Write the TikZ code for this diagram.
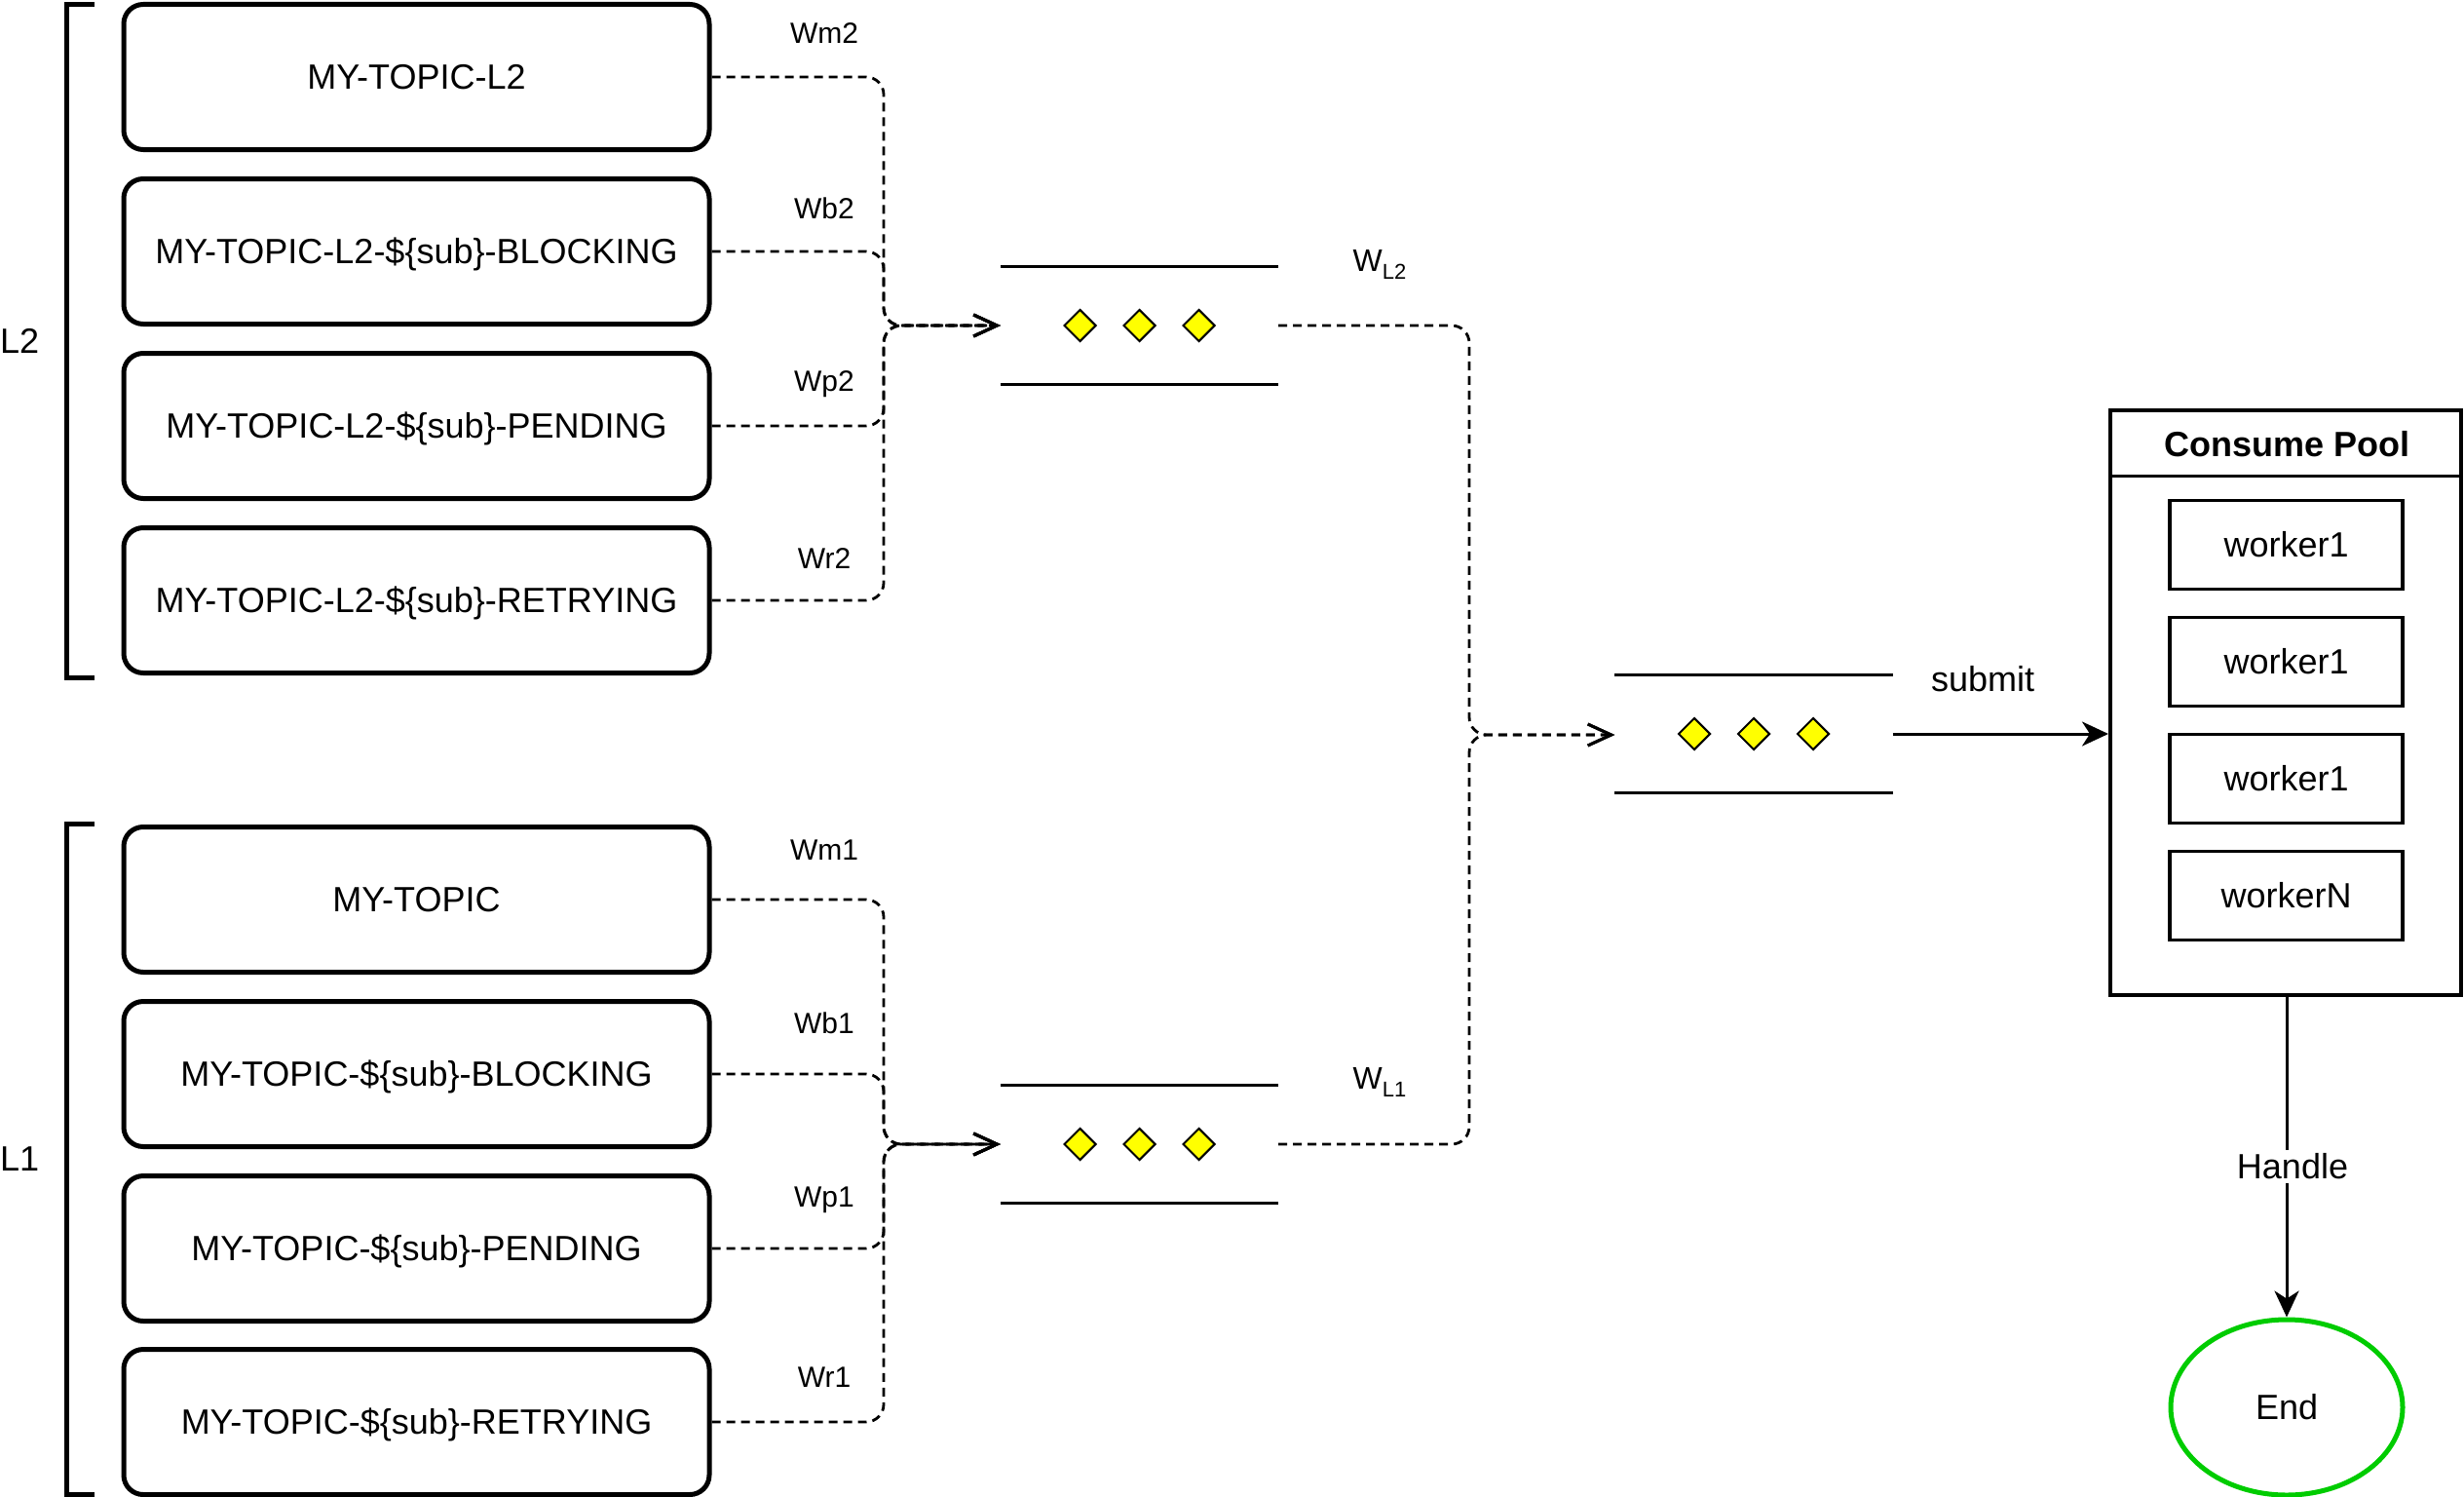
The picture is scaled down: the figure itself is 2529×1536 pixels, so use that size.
\documentclass[tikz,border=0pt]{standalone}
\usepackage{fontspec}
\setmainfont{Liberation Sans}
\usetikzlibrary{arrows.meta,shapes.geometric}
\newcommand\fsz[1]{\fontsize{#1pt}{#1pt}\selectfont}
\definecolor{endgreen}{RGB}{0,204,0}
\definecolor{dyellow}{RGB}{255,255,0}
\begin{document}
\begin{tikzpicture}[x=1pt,y=-1pt,
 topic/.style={draw, line width=5pt, rounded corners=20pt, minimum width=601pt, minimum height=149pt, inner sep=0pt, font=\fsz{36}, text height=25.8pt, text depth=0pt},
 wlbl/.style={font=\fsz{30}, inner sep=0pt},
 big/.style={font=\fsz{36}, inner sep=0pt},
 dashline/.style={line width=2.8pt, dash pattern=on 9pt off 6pt, rounded corners=18pt, -{Straight Barb[length=24pt,width=22pt,line width=3pt]}},
 queue/.style={minimum width=285pt, minimum height=120pt, inner sep=0pt},
 qline/.style={line width=3pt},
 dia/.style={diamond, draw, fill=dyellow, line width=2pt, minimum width=33pt, minimum height=33pt, inner sep=0pt},
 worker/.style={draw, line width=3.5pt, minimum width=239pt, minimum height=91pt, inner sep=0pt, font=\fsz{36}},
 bracket/.style={line width=5pt},
 solidarrow/.style={line width=3pt, -{Stealth[length=27pt,width=25pt,inset=8pt]}},
]
\useasboundingbox (0,0) rectangle (2529,1536);

% brackets and level labels
\draw[bracket] (97,5) -- (68,5) -- (68,695) -- (97,695);
\draw[bracket] (97,845) -- (68,845) -- (68,1533) -- (97,1533);
\node[big, anchor=west] (lvl2) at (0,350) {L2};
\node[big, anchor=west] (lvl1) at (0,1189) {L1};

% topic boxes L2
\node[topic] (t21) at (427.5,79) {MY-TOPIC-L2};
\node[topic] (t22) at (427.5,258) {MY-TOPIC-L2-\$\{sub\}-BLOCKING};
\node[topic] (t23) at (427.5,437) {MY-TOPIC-L2-\$\{sub\}-PENDING};
\node[topic] (t24) at (427.5,616) {MY-TOPIC-L2-\$\{sub\}-RETRYING};
% topic boxes L1
\node[topic] (t11) at (427.5,923) {MY-TOPIC};
\node[topic] (t12) at (427.5,1102) {MY-TOPIC-\$\{sub\}-BLOCKING};
\node[topic] (t13) at (427.5,1281) {MY-TOPIC-\$\{sub\}-PENDING};
\node[topic] (t14) at (427.5,1459) {MY-TOPIC-\$\{sub\}-RETRYING};

% weight labels
\node[wlbl] (wm2) at (846,34) {Wm2};
\node[wlbl] (wb2) at (846,214) {Wb2};
\node[wlbl] (wp2) at (846,394) {Wp2};
\node[wlbl] (wr2) at (846,573) {Wr2};
\node[wlbl] (wm1) at (846,872) {Wm1};
\node[wlbl] (wb1) at (846,1050) {Wb1};
\node[wlbl] (wp1) at (846,1231) {Wp1};
\node[wlbl] (wr1) at (846,1413) {Wr1};

% queues
\node[queue] (q2) at (1169.5,334) {};
\node[queue] (q1) at (1169.5,1174) {};
\node[queue] (mq) at (1800,753) {};
\foreach \q in {q2,q1,mq}{
  \draw[qline] (\q.north west) -- (\q.north east);
  \draw[qline] (\q.south west) -- (\q.south east);
  \node[dia] (\q d1) at ([xshift=-61pt]\q.center) {};
  \node[dia] (\q d2) at (\q.center) {};
  \node[dia] (\q d3) at ([xshift=61pt]\q.center) {};
}
\node[inner sep=0pt] (wl2) at (1416,271) {\fsz{32}W\raisebox{-8pt}{\fsz{22}L2}};
\node[inner sep=0pt] (wl1) at (1416,1110) {\fsz{32}W\raisebox{-8pt}{\fsz{22}L1}};

% junctions
\coordinate (j2) at (907,334);
\coordinate (j1) at (907,1174);
\coordinate (jm) at (1508,754);

\foreach \t in {t21,t22,t23,t24}{
  \draw[dashline] (\t.east) -| (j2) -- (q2.west);
}
\foreach \t in {t11,t12,t13,t14}{
  \draw[dashline] (\t.east) -| (j1) -- (q1.west);
}
\draw[dashline] (q2.east) -| (jm) -- (jm -| mq.west);
\draw[dashline] (q1.east) -| (jm) -- (jm -| mq.west);

% consume pool
\node[draw, line width=4pt, minimum width=360pt, minimum height=600pt, inner sep=0pt] (pool) at (2346,721) {};
\draw[line width=3pt] ([yshift=-69pt]pool.north west) -- ([yshift=-69pt]pool.north east);
\node[big, font=\fsz{36}\bfseries] (pooltitle) at (2347,456) {Consume Pool};
\node[worker] (w1) at (2346.5,559) {worker1};
\node[worker] (w2) at (2346.5,679) {worker1};
\node[worker] (w3) at (2346.5,799) {worker1};
\node[worker] (w4) at (2346.5,919) {workerN};

\draw[solidarrow] (mq.east) -- (mq.east -| pool.west);
\node[big] (submit) at (2035,697) {submit};

% end
\node[ellipse, draw=endgreen, line width=5pt, minimum width=238pt, minimum height=180pt, inner sep=0pt, font=\fsz{36}] (end) at (2347,1444) {End};
\draw[solidarrow] (pool.south -| end.north) -- (end.north) node[big, fill=white, inner sep=4pt, pos=0.53, xshift=6pt] (handle) {Handle};

\end{tikzpicture}
\end{document}
